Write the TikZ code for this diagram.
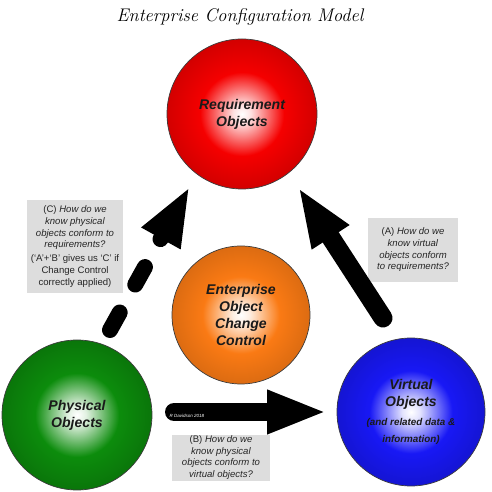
\documentclass[tikz,border=0pt]{standalone}
\usepackage{fontspec}
\setsansfont{Liberation Sans}
\usetikzlibrary{arrows.meta,positioning}
\definecolor{Ink}{HTML}{1A1A1A}
\definecolor{ReqRed}{HTML}{F50000}
\definecolor{CtrlOrange}{HTML}{FA7A14}
\definecolor{PhysGreen}{HTML}{0C8C0C}
\definecolor{VirtBlue}{HTML}{1818F5}
\definecolor{NoteGray}{HTML}{DDDDDD}
% white centre, full colour towards the rim
\pgfdeclareradialshading{reqball}{\pgfpointorigin}{color(0bp)=(white);color(3bp)=(ReqRed!12!white);color(14bp)=(ReqRed);color(25bp)=(ReqRed!86!black);color(50bp)=(ReqRed!86!black)}
\pgfdeclareradialshading{ctrlball}{\pgfpointorigin}{color(0bp)=(white);color(3bp)=(CtrlOrange!12!white);color(14bp)=(CtrlOrange);color(25bp)=(CtrlOrange!88!black);color(50bp)=(CtrlOrange!88!black)}
\pgfdeclareradialshading{physball}{\pgfpointorigin}{color(0bp)=(white);color(3bp)=(PhysGreen!12!white);color(14bp)=(PhysGreen);color(25bp)=(PhysGreen!84!black);color(50bp)=(PhysGreen!84!black)}
\pgfdeclareradialshading{virtball}{\pgfpointorigin}{color(0bp)=(white);color(3bp)=(VirtBlue!12!white);color(14bp)=(VirtBlue);color(25bp)=(VirtBlue!86!black);color(50bp)=(VirtBlue!86!black)}

\begin{document}
\begin{tikzpicture}[x=1cm,y=1cm,
  ball/.style={circle,draw=Ink!85,line width=0.5pt,inner sep=0pt,align=center,text=Ink,font=\sffamily\bfseries\itshape\fontsize{10}{12.1}\selectfont},
  note/.style={fill=NoteGray,inner sep=0pt,align=center,text=Ink!95,font=\sffamily\fontsize{6.8}{8.3}\selectfont},
  bigarrow/.style={line cap=round,-{Triangle[length=15mm,width=10mm]}}]
\useasboundingbox (0,0) rectangle (12.3,12.3);
\node[font=\itshape\fontsize{13}{15}\selectfont] (title) at (6.0,11.875) {Enterprise Configuration Model};

% the four objects
\node[ball,shading=reqball,minimum size=3.75cm] (req) at (6.05,9.45) {Requirement\\Objects};
\node[ball,shading=ctrlball,minimum size=3.45cm] (ctrl) at (6.025,4.425) {Enterprise\\Object\\Change\\Control};
\node[ball,shading=physball,minimum size=3.75cm] (phys) at (1.925,1.925) {Physical\\Objects};
\node[ball,shading=virtball,minimum size=3.7cm] (virt) at (10.275,2.0) {Virtual\\Objects\\[1.5pt]\fontsize{7}{11}\selectfont(and related data \&\\\fontsize{7}{11}\selectfont information)};

% questions
\node[note,minimum width=2.4cm,minimum height=2.325cm] (noteC) at (1.875,6.1375) {(C) \textit{How do we}\\\textit{know physical}\\\textit{objects conform to}\\\textit{requirements?}\\[1.5pt](`A'+`B' gives us `C' if\\Change Control\\correctly applied)};
\node[note,minimum width=2.25cm,minimum height=1.6cm] (noteA) at (10.325,6.05) {(A) \textit{How do we}\\\textit{know virtual}\\\textit{objects conform}\\\textit{to requirements?}};
\node[note,minimum width=2.45cm,minimum height=1.15cm] (noteB) at (5.525,0.86) {(B) \textit{How do we}\\\textit{know physical}\\\textit{objects conform to}\\\textit{virtual objects?}};

% arrows
\coordinate (aTail) at (9.575,4.35);
\coordinate (aTip) at (7.45,7.625);
\draw[bigarrow,line width=0.475cm] (aTail) -- (aTip);
\coordinate (bTail) at (4.35,2.0);
\coordinate (bTip) at (8.175,2.0);
\draw[bigarrow,line width=0.45cm] (bTail) -- (bTip);
\node[font=\sffamily\itshape\fontsize{3.2}{4}\selectfont,text=white] (credit) at (4.675,1.9) {R Davidson 2018};
\coordinate (cTail) at (2.75,4.05);
\coordinate (cTip) at (4.75,7.65);
\draw[bigarrow,line width=0.4cm,dash pattern=on 0.5cm off 0.8cm] (cTail) -- (cTip);
\end{tikzpicture}
\end{document}
